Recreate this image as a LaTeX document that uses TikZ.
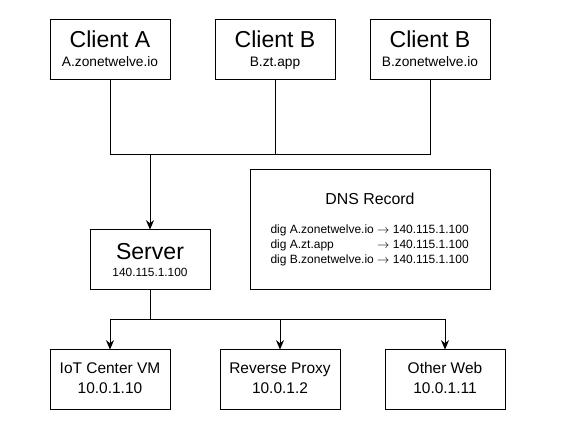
\documentclass[tikz,border=0pt]{standalone}
\usepackage{fontspec}
\setmainfont{Liberation Sans}
\usetikzlibrary{arrows.meta}
\begin{document}
\begin{tikzpicture}[x=0.75pt,y=-0.75pt, line width=0.75pt,
  box/.style={draw, minimum width=90pt, minimum height=45pt, inner sep=0pt},
  dnsbox/.style={draw, minimum width=180pt, minimum height=90pt, inner sep=0pt},
  big/.style={font=\fontsize{17.3}{20}\selectfont, inner sep=0pt, anchor=base},
  sub/.style={font=\fontsize{10.3}{12}\selectfont, inner sep=0pt, anchor=base},
  ip/.style={font=\fontsize{8.9}{11}\selectfont, inner sep=0pt, anchor=base},
  mid/.style={font=\fontsize{11.6}{14}\selectfont, inner sep=0pt, anchor=base},
  arr/.style={-{Stealth[length=7pt,width=6pt]}}]
\useasboundingbox (0,0) rectangle (562,431);
% clients
\node[box] (ca) at (110,50) {};
\node[box] (cb) at (275,50) {};
\node[box] (cc) at (430,50) {};
\node[big] (catitle) at (110,48) {Client A};
\node[sub] (casub) at (110,67) {A.zonetwelve.io};
\node[big] (cbtitle) at (275,48) {Client B};
\node[sub] (cbsub) at (275,67) {B.zt.app};
\node[big] (cctitle) at (430,48) {Client B};
\node[sub] (ccsub) at (430,67) {B.zonetwelve.io};
% server
\node[box] (server) at (150,260) {};
\node[big] (stitle) at (150,259.5) {Server};
\node[ip] (sip) at (150,277) {140.115.1.100};
% DNS
\node[dnsbox] (dns) at (370,230) {};
\node[font=\fontsize{11.9}{14}\selectfont, inner sep=0pt, anchor=base] (dnstitle) at (370,205) {DNS Record};
\node[font=\fontsize{9}{10.9}\selectfont, inner sep=0pt, anchor=base west] (dnslines) at (270,234)
  {\begin{tabular}[t]{@{}l@{ }l@{}}
   dig A.zonetwelve.io & $\rightarrow$ 140.115.1.100\\
   dig A.zt.app & $\rightarrow$ 140.115.1.100\\
   dig B.zonetwelve.io & $\rightarrow$ 140.115.1.100
   \end{tabular}};
% bottom
\node[box] (iot) at (110,380) {};
\node[box] (proxy) at (280,380) {};
\node[box] (other) at (445,380) {};
\node[mid] (iot1) at (110,374) {IoT Center VM};
\node[mid] (iot2) at (110,394) {10.0.1.10};
\node[mid] (proxy1) at (280,374) {Reverse Proxy};
\node[mid] (proxy2) at (280,394) {10.0.1.2};
\node[mid] (other1) at (445,374) {Other Web};
\node[mid] (other2) at (445,394) {10.0.1.11};
% connectors
\coordinate (j1) at (150,155);
\coordinate (j2) at (150,320);
\draw (ca.south) |- (j1);
\draw (cb.south) |- (j1);
\draw (cc.south) |- (j1);
\draw[arr] (j1) -- (server.north);
\draw[arr] (server.south) -- (j2) -| (iot.north);
\draw[arr] (server.south) -- (j2) -| (proxy.north);
\draw[arr] (server.south) -- (j2) -| (other.north);
\end{tikzpicture}
\end{document}
